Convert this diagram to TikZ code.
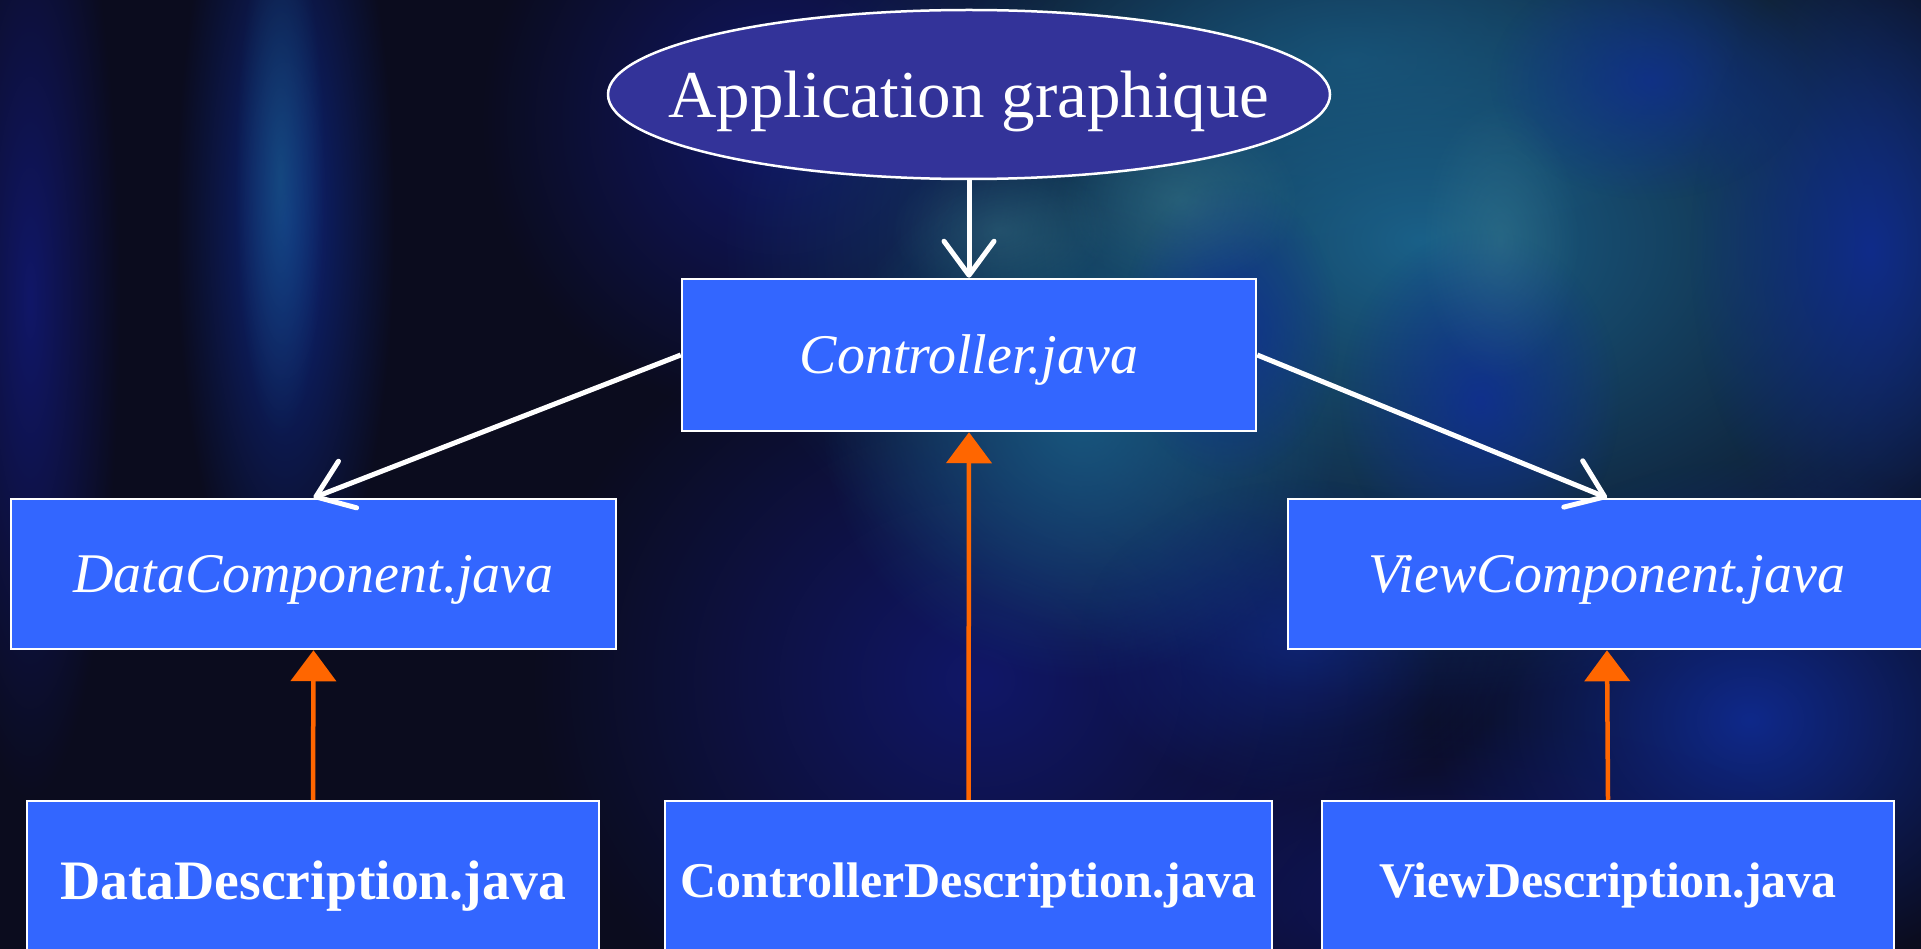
\documentclass[tikz,border=0pt]{standalone}
\usepackage{fontspec}
\setmainfont{Liberation Serif}
\usetikzlibrary{arrows.meta,shapes.geometric,fadings}
\tikzfading[name=softblob, inner color=transparent!0, outer color=transparent!100]
\definecolor{bgbase}{HTML}{0B0C1E}
\definecolor{boxblue}{HTML}{3366FF}
\definecolor{ellblue}{HTML}{333399}
\definecolor{arrorange}{HTML}{FF6600}
\definecolor{tealbg}{HTML}{1A6088}
\definecolor{lightteal}{HTML}{4A8E98}
\definecolor{bluebg}{HTML}{0F2C96}
\definecolor{navybg}{HTML}{111870}
\newcommand{\pptstrut}{\rule[-0.216em]{0pt}{1.107em}}
\tikzset{
  blob/.style={path fading=softblob},
  boxnode/.style={rectangle, draw=white, line width=2.5pt, fill=boxblue, text=white, inner sep=0pt},
  italtext/.style={font=\itshape\fontsize{56}{66}\selectfont},
  whitearrow/.style={draw=white, line width=5pt, -{Straight Barb[length=34pt,width=50pt,round]}},
  orangearrow/.style={draw=arrorange, line width=4.5pt, -{Triangle[length=31pt,width=45pt]}}
}
\begin{document}
\begin{tikzpicture}[x=1pt,y=-1pt]
\useasboundingbox (0,0) rectangle (1921,949);
\fill[bgbase] (0,0) rectangle (1921,949);
% background texture
\begin{scope}
\clip (0,0) rectangle (1921,949);
\fill[navybg, blob, fill opacity=0.9] (30,300) ellipse (90 and 500);
\fill[bluebg, blob, fill opacity=0.8] (285,220) ellipse (110 and 420);
\fill[tealbg, blob, fill opacity=0.6] (280,180) ellipse (45 and 260);
\fill[navybg, blob, fill opacity=0.9] (780,120) ellipse (300 and 300);
\fill[navybg, blob, fill opacity=0.9] (980,680) ellipse (450 and 400);
\fill[tealbg, blob, fill opacity=1] (1420,240) ellipse (700 and 460);
\fill[tealbg, blob, fill opacity=0.8] (1080,420) ellipse (260 and 260);
\fill[tealbg, blob, fill opacity=0.6] (1350,60) ellipse (400 and 200);
\fill[bluebg, blob, fill opacity=0.8] (1230,330) ellipse (110 and 150);
\fill[bluebg, blob, fill opacity=0.8] (1480,400) ellipse (140 and 170);
\fill[bluebg, blob, fill opacity=0.85] (1870,250) ellipse (180 and 300);
\fill[bluebg, blob, fill opacity=0.7] (1650,80) ellipse (160 and 120);
\fill[bluebg, blob, fill opacity=0.9] (1750,720) ellipse (320 and 260);
\fill[navybg, blob, fill opacity=0.8] (1450,900) ellipse (400 and 180);
\fill[bluebg, blob, fill opacity=0.6] (1300,640) ellipse (220 and 160);
\fill[lightteal, blob, fill opacity=0.35] (1180,200) ellipse (120 and 90);
\fill[lightteal, blob, fill opacity=0.3] (1000,230) ellipse (110 and 70);
\fill[lightteal, blob, fill opacity=0.3] (1500,240) ellipse (80 and 140);
\end{scope}
% nodes
\node[ellipse, draw=white, line width=2.5pt, fill=ellblue, text=white, inner sep=0pt,
      minimum width=722pt, minimum height=169pt, font=\fontsize{67}{80}\selectfont]
      (app) at (969,94.5) {\makebox[0pt]{\pptstrut Application graphique}};
\node[boxnode, italtext, minimum width=574pt, minimum height=152pt] (ctrl) at (969,355) {\pptstrut Controller.java};
\node[boxnode, italtext, minimum width=605pt, minimum height=150pt] (dcomp) at (313.5,574) {\pptstrut DataComponent.java};
\node[boxnode, italtext, minimum width=638pt, minimum height=150pt] (vcomp) at (1607,574) {\pptstrut ViewComponent.java};
\node[boxnode, font=\bfseries\fontsize{55.7}{66}\selectfont, minimum width=572pt, minimum height=160pt] (ddesc) at (313,881) {\pptstrut DataDescription.java};
\node[boxnode, font=\bfseries\fontsize{50}{60}\selectfont, minimum width=607pt, minimum height=160pt] (cdesc) at (968.5,881) {\pptstrut ControllerDescription.java};
\node[boxnode, font=\bfseries\fontsize{50}{60}\selectfont, minimum width=572pt, minimum height=160pt] (vdesc) at (1608,881) {\pptstrut ViewDescription.java};
% connectors
\draw[whitearrow] (app.south) -- (ctrl.north);
\draw[whitearrow] (ctrl.west) -- (dcomp.north);
\draw[whitearrow] (ctrl.east) -- (vcomp.north);
\draw[orangearrow] (ddesc.north) -- (dcomp.south);
\draw[orangearrow] (cdesc.north) -- (ctrl.south);
\draw[orangearrow] (vdesc.north) -- (vcomp.south);
\end{tikzpicture}
\end{document}
